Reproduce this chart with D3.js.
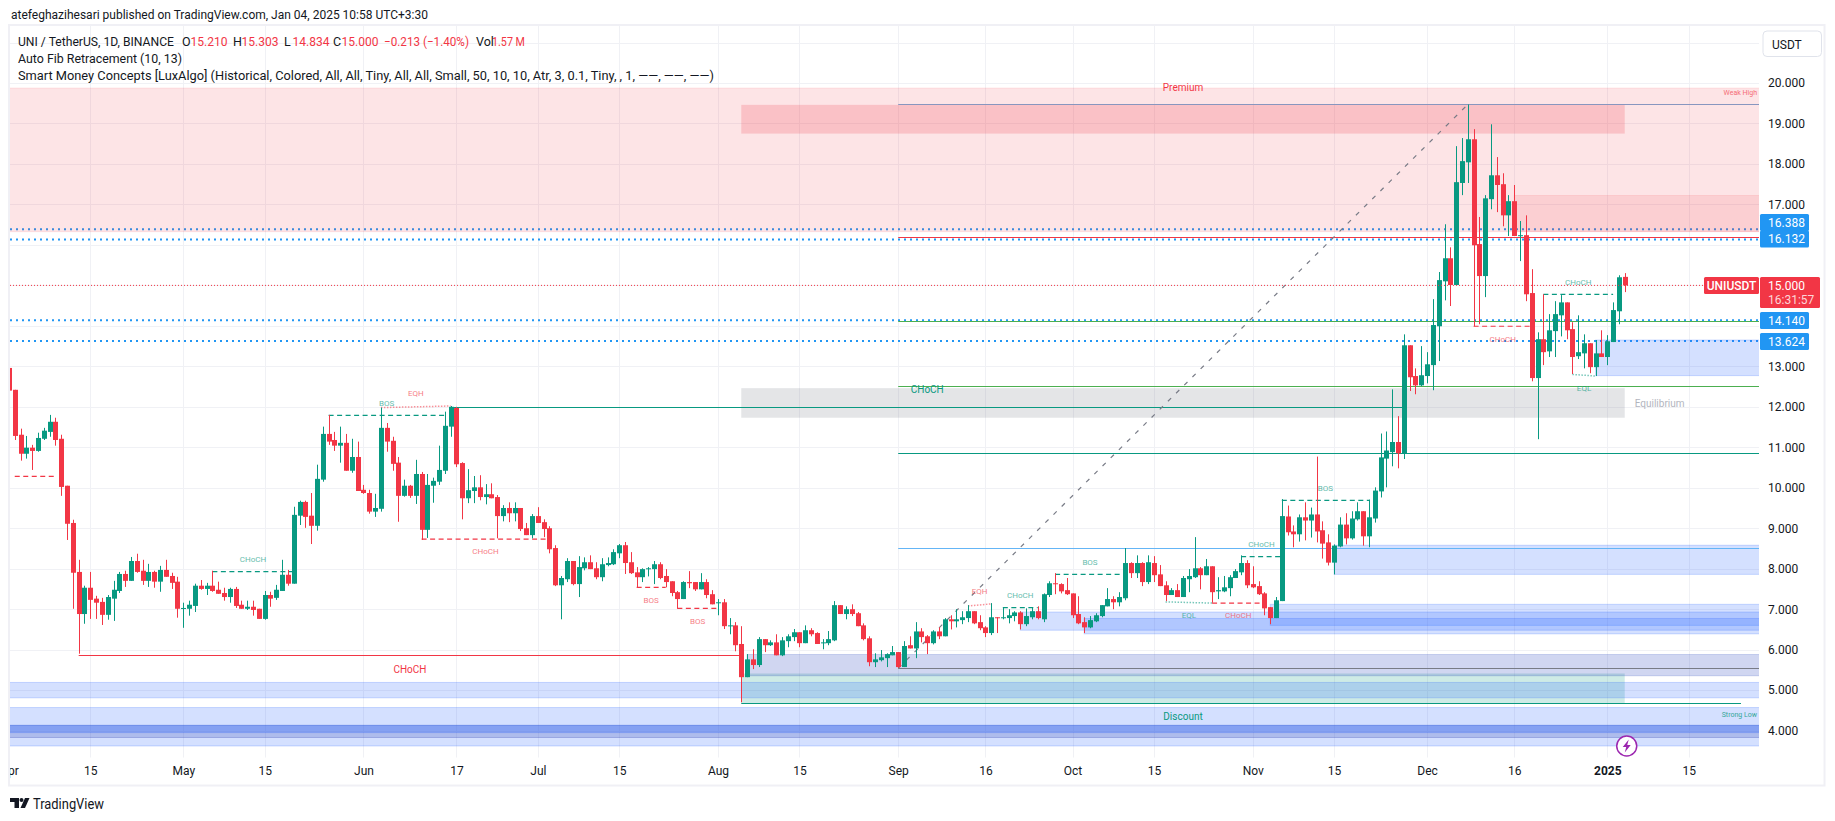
<!DOCTYPE html>
<html lang="en">
<head>
<meta charset="UTF-8">
<title>UNIUSDT 1D</title>
<style>
    html, body { margin: 0; background: #fff; }
    svg { display: block; }
    text { font-family: Roboto, "Liberation Sans", sans-serif; fill: #131722; }
</style>
<script src="https://d3js.org/d3.v7.min.js"></script>
</head>
<body>
<svg width="1835" height="821"></svg>
<script>
// daily bars from firstBar on: open, high, low, close
const firstBar = "2024-04-01";
const ohlc = [
[12.96,13.10,12.35,12.40],[12.42,12.42,11.18,11.28],[11.31,11.46,10.67,10.84],[10.84,11.28,10.72,10.99],[10.99,11.06,10.44,10.91],
[10.91,11.36,10.89,11.23],[11.21,11.48,11.18,11.41],[11.38,11.80,11.26,11.63],[11.63,11.73,11.04,11.18],[11.21,11.31,9.80,10.02],
[10.05,10.05,8.71,9.11],[9.13,9.21,7.01,7.90],[7.92,8.22,5.90,6.88],[6.88,7.58,6.64,7.53],[7.53,7.92,6.76,7.23],
[7.26,7.33,6.76,7.16],[7.18,7.28,6.61,6.86],[6.86,7.35,6.74,7.30],[7.26,7.70,6.71,7.48],[7.45,7.92,7.40,7.87],
[7.87,7.95,7.55,7.70],[7.70,8.29,7.70,8.19],[8.19,8.37,7.90,7.92],[7.95,8.22,7.60,7.70],[7.70,8.12,7.55,7.92],
[7.92,7.95,7.53,7.68],[7.68,8.07,7.43,7.97],[7.97,8.22,7.80,7.80],[7.82,7.90,7.50,7.65],[7.68,7.80,6.79,7.01],
[7.01,7.16,6.54,7.03],[7.01,7.21,6.84,7.11],[7.08,7.63,6.93,7.58],[7.58,7.72,7.48,7.50],[7.50,7.65,7.35,7.58],
[7.58,7.95,7.43,7.45],[7.48,7.68,7.38,7.38],[7.40,7.53,7.21,7.30],[7.30,7.53,7.16,7.50],[7.50,7.55,7.03,7.08],
[7.11,7.21,7.01,7.01],[7.01,7.21,6.98,7.06],[7.06,7.21,6.84,6.98],[7.01,7.01,6.76,6.76],[6.76,7.45,6.74,7.35],
[7.35,7.43,7.06,7.26],[7.28,7.60,7.23,7.48],[7.45,8.22,7.45,7.85],[7.85,7.97,7.58,7.63],[7.63,9.53,7.63,9.33],
[9.31,9.68,9.08,9.65],[9.65,9.68,9.01,9.28],[9.31,9.87,8.61,9.06],[9.06,10.57,8.94,10.22],[10.20,11.51,10.15,11.33],
[11.33,11.80,11.06,11.14],[11.18,11.38,10.91,11.04],[11.04,11.51,10.62,11.11],[11.11,11.33,10.42,10.42],[10.42,11.21,10.37,10.76],
[10.76,11.14,9.92,9.92],[9.95,10.07,9.85,9.87],[9.87,9.95,9.36,9.41],[9.41,9.85,9.28,9.50],[9.48,11.98,9.41,11.48],
[11.48,11.60,10.89,11.14],[11.16,11.26,10.42,10.59],[10.62,10.76,9.16,9.80],[9.80,10.20,9.78,10.05],[10.05,10.07,9.75,9.80],
[9.80,10.69,9.60,10.34],[10.34,10.39,8.71,8.96],[8.96,10.34,8.76,10.07],[10.05,10.25,9.63,10.17],[10.15,11.04,10.07,10.44],
[10.42,11.88,10.34,11.53],[11.51,12.02,11.26,12.00],[11.97,12.00,10.51,10.58],[10.61,10.63,9.22,9.74],[9.74,10.46,9.62,9.94],
[9.92,10.29,9.62,10.01],[10.01,10.31,9.69,9.77],[9.77,10.09,9.59,9.84],[9.84,10.11,9.74,9.74],[9.77,9.82,8.75,9.30],
[9.30,9.57,9.17,9.50],[9.50,9.64,9.15,9.37],[9.37,9.64,9.17,9.50],[9.50,9.50,8.93,8.98],[9.00,9.13,8.83,8.83],
[8.83,9.35,8.75,9.30],[9.30,9.52,9.13,9.13],[9.15,9.22,8.78,8.98],[9.00,9.05,8.38,8.48],[8.51,8.58,7.57,7.59],
[7.59,7.82,6.75,7.77],[7.74,8.26,7.67,8.19],[8.19,8.19,7.59,7.62],[7.62,8.31,7.30,8.04],[8.01,8.28,7.96,8.16],
[8.16,8.33,7.99,7.99],[8.01,8.16,7.74,7.79],[7.79,8.26,7.69,8.11],[8.09,8.28,8.06,8.14],[8.11,8.48,8.09,8.41],
[8.38,8.61,8.26,8.58],[8.58,8.66,7.87,8.14],[8.16,8.41,7.87,7.89],[7.91,8.04,7.54,7.79],[7.79,8.01,7.67,7.99],
[7.99,8.04,7.81,8.01],[7.99,8.19,7.62,8.11],[8.11,8.16,7.74,7.77],[7.82,7.99,7.54,7.67],[7.69,7.69,7.32,7.40],
[7.42,7.45,7.01,7.25],[7.25,7.69,7.25,7.67],[7.67,7.94,7.52,7.64],[7.67,7.67,7.45,7.49],[7.49,7.89,7.49,7.67],
[7.67,7.74,7.27,7.35],[7.37,7.47,7.12,7.12],[7.15,7.25,6.85,7.17],[7.17,7.25,6.51,6.58],[6.58,6.78,6.38,6.60],
[6.60,6.68,5.96,6.11],[6.14,6.58,4.70,5.32],[5.32,5.89,5.32,5.76],[5.76,6.01,5.52,5.62],[5.62,6.31,5.57,6.26],
[6.26,6.26,5.94,6.11],[6.11,6.23,6.09,6.18],[6.18,6.38,5.86,5.86],[5.86,6.31,5.84,6.23],[6.21,6.38,6.06,6.33],
[6.31,6.51,6.21,6.43],[6.43,6.43,6.06,6.16],[6.16,6.60,6.16,6.48],[6.48,6.53,6.33,6.38],[6.41,6.43,6.14,6.14],
[6.16,6.26,6.01,6.18],[6.16,6.46,6.11,6.26],[6.23,7.20,6.21,7.10],[7.10,7.10,6.88,6.88],[6.88,7.07,6.75,7.00],
[7.00,7.12,6.83,6.88],[6.90,6.93,6.58,6.58],[6.60,6.65,6.23,6.26],[6.28,6.33,5.59,5.69],[5.69,5.91,5.57,5.76],
[5.74,5.99,5.71,5.81],[5.79,5.91,5.57,5.89],[5.86,6.09,5.86,5.94],[5.94,5.94,5.55,5.57],[5.57,6.21,5.57,6.09],
[6.11,6.33,6.03,6.03],[6.03,6.68,5.79,6.45],[6.45,6.53,6.18,6.31],[6.33,6.36,5.89,6.16],[6.16,6.48,6.13,6.45],
[6.45,6.55,6.26,6.33],[6.33,6.78,6.33,6.75],[6.75,6.85,6.50,6.70],[6.70,7.00,6.55,6.75],[6.73,6.95,6.63,6.80],
[6.78,7.10,6.68,6.95],[6.95,6.95,6.63,6.65],[6.68,6.85,6.48,6.53],[6.55,6.58,6.31,6.41],[6.41,7.15,6.36,6.80],
[6.80,6.80,6.41,6.78],[6.78,7.05,6.75,6.80],[6.78,7.00,6.65,6.85],[6.83,6.95,6.70,6.92],[6.92,6.95,6.50,6.63],
[6.63,7.02,6.58,6.83],[6.80,7.05,6.75,6.95],[6.95,7.07,6.75,6.78],[6.75,7.39,6.68,7.37],[7.35,7.69,7.30,7.64],
[7.64,7.89,7.37,7.62],[7.62,7.64,7.39,7.44],[7.47,7.77,7.35,7.37],[7.39,7.39,6.78,6.85],[6.88,7.32,6.63,6.65],
[6.68,6.80,6.41,6.55],[6.55,6.83,6.53,6.73],[6.70,6.90,6.68,6.85],[6.83,7.10,6.80,7.10],[7.07,7.52,7.07,7.25],
[7.25,7.32,7.00,7.17],[7.17,7.42,7.07,7.30],[7.27,8.51,7.22,8.14],[8.14,8.16,7.77,7.89],[7.89,8.33,7.77,8.14],
[8.14,8.16,7.57,7.67],[7.67,8.33,7.62,8.16],[8.14,8.31,7.67,7.84],[7.86,8.09,7.57,7.57],[7.59,7.69,7.20,7.35],
[7.35,7.52,7.35,7.47],[7.47,7.62,7.30,7.30],[7.30,7.82,7.30,7.77],[7.74,7.99,7.42,7.82],[7.79,8.78,7.77,8.01],
[8.01,8.04,7.49,7.84],[7.84,8.24,7.84,8.06],[8.06,8.06,7.16,7.42],[7.44,7.79,7.25,7.47],[7.44,7.82,7.42,7.54],
[7.52,7.84,7.32,7.79],[7.77,7.99,7.77,7.94],[7.91,8.33,7.84,8.14],[8.14,8.21,7.52,7.59],[7.62,8.06,7.52,7.54],
[7.57,7.69,7.35,7.37],[7.39,7.42,6.85,7.02],[7.05,7.05,6.63,6.78],[6.78,7.30,6.78,7.22],[7.20,9.72,7.20,9.30],
[9.29,9.56,8.82,8.90],[8.92,9.07,8.53,8.85],[8.85,9.34,8.67,9.27],[9.27,9.64,8.70,9.19],[9.19,9.51,8.77,9.34],
[9.34,10.77,8.65,8.92],[8.95,9.17,8.25,8.62],[8.65,8.85,8.08,8.15],[8.15,8.60,7.86,8.57],[8.55,9.27,8.53,9.09],
[9.09,9.37,8.60,8.75],[8.75,9.42,8.72,9.24],[9.22,9.64,9.19,9.42],[9.42,9.42,8.57,8.80],[8.80,9.71,8.53,9.27],
[9.24,10.01,9.14,9.93],[9.91,11.34,9.76,10.75],[10.72,11.39,10.01,10.92],[10.88,12.43,10.53,11.13],[11.13,11.77,10.48,10.85],
[10.85,13.79,10.71,13.52],[13.52,13.52,12.39,12.73],[12.76,12.95,12.31,12.53],[12.53,13.50,12.51,12.78],[12.76,13.35,12.58,13.05],
[13.03,14.66,12.41,14.02],[13.99,15.33,13.13,15.13],[15.10,16.51,14.63,15.67],[15.67,15.94,14.49,15.01],[15.01,18.44,15.01,17.55],
[17.53,18.64,17.23,18.07],[18.04,19.47,17.53,18.61],[18.61,18.86,13.99,15.99],[16.02,16.69,14.04,15.23],[15.23,17.23,14.71,17.15],
[17.13,18.98,16.88,17.72],[17.72,18.17,16.81,17.48],[17.50,17.77,16.46,16.73],[16.73,17.23,16.22,17.08],[17.08,17.48,16.22,16.22],
[16.22,16.59,15.60,16.24],[16.24,16.73,14.61,14.78],[14.81,15.40,12.63,12.71],[12.71,13.84,11.20,13.67],[13.67,14.78,13.03,13.35],
[13.37,14.29,13.23,13.89],[13.87,14.61,13.23,14.29],[14.26,14.76,13.74,14.58],[14.58,14.58,13.67,13.89],[13.92,14.09,12.81,13.23],
[13.25,14.26,13.18,13.35],[13.32,13.79,12.95,13.57],[13.57,13.57,12.83,12.98],[12.98,13.65,12.76,13.32],[13.32,13.89,13.23,13.23],
[13.23,13.77,13.03,13.62],[13.60,14.58,13.60,14.39],[14.36,15.25,14.04,15.20],[15.21,15.303,14.834,15.00]
];

const priceTicks = d3.range(4, 22);
// these sit behind the button and the price tags, only their grid lines show
const coveredTicks = [21, 16, 15, 14];
const timeTicks = [
    ["2024-04-01","Apr"],["2024-04-15","15"],["2024-05-01","May"],["2024-05-15","15"],["2024-06-01","Jun"],
    ["2024-06-17","17"],["2024-07-01","Jul"],["2024-07-15","15"],["2024-08-01","Aug"],["2024-08-15","15"],
    ["2024-09-01","Sep"],["2024-09-16","16"],["2024-10-01","Oct"],["2024-10-15","15"],["2024-11-01","Nov"],
    ["2024-11-15","15"],["2024-12-01","Dec"],["2024-12-16","16"],["2025-01-01","2025"],["2025-01-15","15"]
];

// boxes: kind, from, to, top price, bottom price ("edge" runs off the pane)
const edgeL = "2024-03-25", edgeR = "2025-02-10";
const zones = [
    ["premium", edgeL, edgeR, 19.877, 16.326],
    ["supply", "2024-08-05", "2025-01-04", 19.46, 18.75],
    ["supplyLight", "2024-12-16", edgeR, 17.22, 16.33],
    ["equilibrium", "2024-08-05", "2025-01-04", 12.46, 11.73],
    ["discount", "2024-08-05", "2025-01-04", 5.41, 4.67],
    ["demand", edgeL, edgeR, 5.19, 4.81],
    ["demand", edgeL, edgeR, 4.57, 3.62],
    ["demandMid", edgeL, edgeR, 4.13, 3.83],
    ["demandDark", edgeL, edgeR, 4.13, 3.95],
    ["demandSlate", "2024-08-06", edgeR, 5.88, 5.355],
    ["demand", "2024-09-22", edgeR, 6.93, 6.48],
    ["demand", "2024-10-03", edgeR, 6.77, 6.39],
    ["demand", "2024-11-04", edgeR, 7.12, 6.60],
    ["demand", "2024-11-15", edgeR, 8.58, 7.86],
    ["demand", "2024-12-30", edgeR, 13.65, 12.77]
];

// solid levels: kind, from, to, price
const levels = [
    ["fib", "2024-09-01", edgeR, 19.47],
    ["bear", "2024-09-01", edgeR, 16.19],
    ["lime", "2024-09-01", edgeR, 14.13],
    ["lime", "2024-09-01", edgeR, 12.51],
    ["bull", "2024-06-16", "2024-11-27", 12.0],
    ["bull", "2024-09-01", edgeR, 10.85],
    ["sky", "2024-09-01", edgeR, 8.50],
    ["grey", "2024-09-01", edgeR, 5.54],
    ["bear", "2024-04-13", "2024-08-05", 5.88],
    ["bull", "2024-08-05", "2025-01-24", 4.67]
];

const alertLevels = [16.388, 16.132, 14.140, 13.624];
const lastPrice = 15.0;
const fibLine = [["2024-09-01", 5.54], ["2024-12-08", 19.47]];

// market structure: label, tone, from, to, price at from, price at to, label side (-1 above, 1 below)
const structure = [
    ["", "bear", "2024-04-02", "2024-04-09", 10.28, 10.28, 1],
    ["CHoCH", "bull", "2024-05-06", "2024-05-20", 7.93, 7.93, -1],
    ["BOS", "bull", "2024-05-26", "2024-06-15", 11.79, 11.79, -1],
    ["EQH", "bear", "2024-06-04", "2024-06-16", 11.98, 12.02, -1],
    ["CHoCH", "bear", "2024-06-11", "2024-07-03", 8.73, 8.73, 1],
    ["BOS", "bear", "2024-07-18", "2024-07-23", 7.54, 7.54, 1],
    ["BOS", "bear", "2024-07-25", "2024-08-01", 7.02, 7.02, 1],
    ["EQH", "bear", "2024-09-13", "2024-09-17", 7.08, 7.13, -1],
    ["CHoCH", "bull", "2024-09-19", "2024-09-25", 7.04, 7.04, -1],
    ["BOS", "bull", "2024-09-28", "2024-10-10", 7.86, 7.86, -1],
    ["EQL", "bull", "2024-10-17", "2024-10-25", 7.18, 7.15, 1],
    ["CHoCH", "bear", "2024-10-25", "2024-11-03", 7.15, 7.15, 1],
    ["CHoCH", "bull", "2024-10-30", "2024-11-06", 8.30, 8.30, -1],
    ["BOS", "bull", "2024-11-06", "2024-11-21", 9.69, 9.69, -1],
    ["CHoCH", "bear", "2024-12-09", "2024-12-19", 13.99, 13.99, 1],
    ["CHoCH", "bull", "2024-12-21", "2025-01-02", 14.78, 14.78, -1],
    ["EQL", "bull", "2024-12-26", "2024-12-30", 12.80, 12.76, 1]
];

// bigger texts: text, kind, date, price
const notes = [
    ["CHoCH", "bear", "2024-06-09", 5.52],
    ["CHoCH", "bull", "2024-09-06", 12.42],
    ["Premium", "bear", "2024-10-20", 19.88],
    ["Discount", "bull", "2024-10-20", 4.34],
    ["Equilibrium", "grey", "2025-01-10", 12.07]
];

const header = "atefeghazihesari published on TradingView.com, Jan 04, 2025 10:58 UTC+3:30";
const legendSymbol = "UNI / TetherUS, 1D, BINANCE";
const legendValues = [["O","15.210"],["H","15.303"],["L","14.834"],["C","15.000"]];
const legendChange = "−0.213 (−1.40%)";
const legendVolume = "1.57 M";
const studies = [
    "Auto Fib Retracement (10, 13)",
    "Smart Money Concepts [LuxAlgo] (Historical, Colored, All, All, Tiny, All, All, Small, 50, 10, 10, Atr, 3, 0.1, Tiny, , 1, ——, ——, ——)"
];

const BULL = "#089981", BEAR = "#f23645";
const zoneFill = {
    premium: "rgba(242,54,69,0.135)", supply: "rgba(242,54,69,0.2)", supplyLight: "rgba(242,54,69,0.12)",
    equilibrium: "rgba(120,123,134,0.2)", discount: "rgba(8,153,129,0.2)",
    demand: "rgba(41,98,255,0.2)", demandMid: "rgba(60,80,180,0.25)", demandDark: "rgba(41,98,255,0.3)",
    demandSlate: "rgba(40,70,190,0.22)"
};
const zoneEdge = {
    premium: "rgba(242,54,69,0.1)", supplyLight: "rgba(242,54,69,0.1)",
    demand: "rgba(41,98,255,0.22)", demandMid: "rgba(60,80,180,0.3)", demandDark: "rgba(41,98,255,0.2)",
    demandSlate: "rgba(40,70,190,0.2)"
};
const levelColor = { fib: "#8896bf", bear: BEAR, bull: BULL, lime: "#4caf50", sky: "#64b5f6", grey: "#787b86" };
const noteColor = { bear: BEAR, bull: BULL, grey: "#b2b5be" };

const day = s => new Date(s + "T00:00:00Z");
const crisp = v => Math.round(v) + 0.5;
const pane = { left: 10, right: 1759, top: 26, bottom: 757.7 };

const x = d3.scaleUtc().domain([day("2024-04-15"), day("2025-01-01")]).range([90.3, 1607.3]);
const y = d3.scaleLinear().domain([20, 12]).range([83, 406.8]);

const svg = d3.select("svg");
svg.append("defs").append("clipPath").attr("id", "pane").append("rect")
    .attr("x", pane.left).attr("y", pane.top)
    .attr("width", pane.right - pane.left).attr("height", pane.bottom - pane.top);
svg.select("defs").append("clipPath").attr("id", "timeClip").append("rect")
    .attr("x", pane.left).attr("y", pane.bottom)
    .attr("width", 1750).attr("height", 28);

svg.append("rect").attr("x", 9).attr("y", 25).attr("width", 1815.5).attr("height", 760.5)
    .attr("fill", "#fff").attr("stroke", "#f0f0f5").attr("stroke-width", 2);

const plot = svg.append("g").attr("clip-path", "url(#pane)");

// grid
plot.selectAll("line.gh").data(priceTicks).enter().append("line")
    .attr("x1", pane.left).attr("x2", pane.right)
    .attr("y1", d => crisp(y(d))).attr("y2", d => crisp(y(d)))
    .attr("stroke", "#f0f1f5");
plot.selectAll("line.gv").data(timeTicks).enter().append("line")
    .attr("x1", d => crisp(x(day(d[0])))).attr("x2", d => crisp(x(day(d[0]))))
    .attr("y1", pane.top).attr("y2", pane.bottom)
    .attr("stroke", "#f0f1f5");

// alert levels go under the zones
plot.selectAll("line.alert").data(alertLevels).enter().append("line")
    .attr("x1", pane.left).attr("x2", pane.right)
    .attr("y1", d => y(d)).attr("y2", d => y(d))
    .attr("stroke", "#2196f3").attr("stroke-width", 2).attr("stroke-dasharray", "2 4");

plot.selectAll("rect.zone").data(zones).enter().append("rect")
    .attr("x", d => x(day(d[1]))).attr("width", d => x(day(d[2])) - x(day(d[1])))
    .attr("y", d => y(d[3])).attr("height", d => y(d[4]) - y(d[3]))
    .attr("fill", d => zoneFill[d[0]])
    .attr("stroke", d => zoneEdge[d[0]] || "none");

plot.selectAll("line.level").data(levels).enter().append("line")
    .attr("x1", d => x(day(d[1]))).attr("x2", d => x(day(d[2])))
    .attr("y1", d => crisp(y(d[3]))).attr("y2", d => crisp(y(d[3])))
    .attr("stroke", d => levelColor[d[0]]);

plot.append("line")
    .attr("x1", x(day(fibLine[0][0]))).attr("y1", y(fibLine[0][1]))
    .attr("x2", x(day(fibLine[1][0]))).attr("y2", y(fibLine[1][1]))
    .attr("stroke", "#787b86").attr("stroke-width", 1.2).attr("stroke-dasharray", "4.5 7");

// structure breaks, EQH / EQL are the dotted ones
plot.selectAll("line.st").data(structure).enter().append("line")
    .attr("x1", d => x(day(d[2]))).attr("x2", d => x(day(d[3])))
    .attr("y1", d => y(d[4])).attr("y2", d => y(d[5]))
    .attr("stroke", d => d[1] === "bull" ? BULL : BEAR)
    .attr("stroke-width", d => d[0].startsWith("EQ") ? 1.5 : 1.2)
    .attr("stroke-opacity", d => d[0].startsWith("EQ") ? 0.55 : 1)
    .attr("stroke-dasharray", d => d[0].startsWith("EQ") ? "1.5 1.5" : "5 3.5");

// candles
const candles = ohlc.map((d, i) => ({
    date: d3.utcDay.offset(day(firstBar), i), o: d[0], h: d[1], l: d[2], c: d[3]
}));
const bars = plot.selectAll("g.bar").data(candles).enter().append("g")
    .attr("fill", d => d.c >= d.o ? BULL : BEAR);
bars.append("rect")
    .attr("x", d => Math.round(x(d.date)))
    .attr("width", 1)
    .attr("y", d => y(d.h)).attr("height", d => y(d.l) - y(d.h));
bars.append("rect")
    .attr("x", d => Math.round(x(d.date)) - 2)
    .attr("width", 5)
    .attr("y", d => y(Math.max(d.o, d.c)))
    .attr("height", d => Math.max(1, Math.abs(y(d.o) - y(d.c))));

plot.append("line")
    .attr("x1", pane.left).attr("x2", 1704)
    .attr("y1", y(lastPrice)).attr("y2", y(lastPrice))
    .attr("stroke", BEAR).attr("stroke-dasharray", "1 2");

plot.selectAll("text.stl").data(structure.filter(d => d[0])).enter().append("text")
    .attr("x", d => (x(day(d[2])) + x(day(d[3]))) / 2)
    .attr("y", d => y(d[5]) + d[6] * 12.5)
    .attr("dy", "0.35em")
    .attr("text-anchor", "middle")
    .attr("font-size", 8)
    .style("fill", d => d[1] === "bull" ? "#089981" : "#f23645")
    .style("opacity", 0.65)
    .text(d => d[0]);

plot.selectAll("text.note").data(notes).enter().append("text")
    .attr("x", d => x(day(d[2])))
    .attr("y", d => y(d[3]))
    .attr("dy", "0.35em")
    .attr("text-anchor", "middle")
    .attr("font-size", 10)
    .style("fill", d => noteColor[d[1]])
    .text(d => d[0]);

plot.append("text").attr("x", 1757).attr("y", y(19.77)).attr("dy", "0.35em").attr("text-anchor", "end")
    .attr("font-size", 7).style("fill", BEAR).style("opacity", 0.7).text("Weak High");
plot.append("text").attr("x", 1757).attr("y", y(4.40)).attr("dy", "0.35em").attr("text-anchor", "end")
    .attr("font-size", 7).style("fill", BULL).style("opacity", 0.8).text("Strong Low");

// earnings style badge near the last bar
const badge = svg.append("g").attr("transform", `translate(${x(day("2025-01-04")) + 2},${y(3.62)})`);
badge.append("circle").attr("r", 10).attr("fill", "#fff").attr("stroke", "#9c27b0").attr("stroke-width", 1.5);
badge.append("path").attr("d", "M2,-6.5 L-4,1 L-0.5,1 L-2,6.5 L4,-1 L0.5,-1 Z").attr("fill", "#9c27b0");

// price axis
const yAxis = d3.axisRight(y).tickValues(priceTicks.filter(d => !coveredTicks.includes(d)))
    .tickFormat(d3.format(".3f")).tickSize(0).tickPadding(0);
const yg = svg.append("g").attr("transform", "translate(1768,0)").call(yAxis);
yg.select(".domain").remove();
yg.selectAll("text").attr("font-size", 12).style("fill", "#131722");

// time axis
const xAxis = d3.axisBottom(x).tickValues(timeTicks.map(d => day(d[0])))
    .tickFormat((d, i) => timeTicks[i][1]).tickSize(0).tickPadding(9);
const xg = svg.append("g").attr("clip-path", "url(#timeClip)")
    .append("g").attr("transform", `translate(0,${pane.bottom})`).call(xAxis);
xg.select(".domain").remove();
xg.selectAll("text").attr("font-size", 12).style("fill", "#131722")
    .style("font-weight", (d, i) => timeTicks[i][1] === "2025" ? 700 : 400);

// price tags
const tagY = { 16.388: 222.6, 16.132: 239, 14.14: 320.6, 13.624: 341.5 };
const tags = svg.append("g");
alertLevels.forEach(v => {
    tags.append("rect").attr("x", 1760).attr("width", 49).attr("y", tagY[v] - 8.5).attr("height", 17)
        .attr("rx", 1.5).attr("fill", "#2196f3");
    tags.append("text").attr("x", 1768).attr("y", tagY[v]).attr("dy", "0.35em")
        .attr("font-size", 12).style("fill", "#fff").text(d3.format(".3f")(v));
});
tags.append("rect").attr("x", 1760).attr("y", 277).attr("width", 60).attr("height", 31).attr("rx", 1.5).attr("fill", BEAR);
tags.append("text").attr("x", 1768).attr("y", y(lastPrice) + 0.5).attr("dy", "0.35em")
    .attr("font-size", 12).style("fill", "#fff").text(d3.format(".3f")(lastPrice));
tags.append("text").attr("x", 1768).attr("y", 300).attr("dy", "0.35em")
    .attr("font-size", 12).style("fill", "#fcd5d8").text("16:31:57");
tags.append("rect").attr("x", 1704).attr("y", 277).attr("width", 55).attr("height", 17).attr("rx", 1.5).attr("fill", BEAR);
tags.append("text").attr("x", 1731.5).attr("y", 285.7).attr("dy", "0.35em").attr("text-anchor", "middle")
    .attr("font-size", 12).attr("font-weight", 500).style("fill", "#fff").text("UNIUSDT");

// currency button
svg.append("rect").attr("x", 1763).attr("y", 31).attr("width", 58.5).attr("height", 25.5).attr("rx", 4)
    .attr("fill", "#fff").attr("stroke", "#e0e3eb");
svg.append("text").attr("x", 1772).attr("y", 44.7).attr("dy", "0.35em").attr("font-size", 12).text("USDT");

// header and legend
svg.append("text").attr("x", 11).attr("y", 15).attr("dy", "0.35em").attr("font-size", 12.5)
    .attr("textLength", 417).attr("lengthAdjust", "spacingAndGlyphs").text(header);

const legend = svg.append("g").attr("font-size", 12.5);
legend.append("text").attr("x", 18).attr("y", 42).attr("dy", "0.35em")
    .attr("textLength", 156).attr("lengthAdjust", "spacingAndGlyphs").text(legendSymbol);
const legendX = [182, 233, 284, 333];
legendValues.forEach((d, i) => {
    legend.append("text").attr("x", legendX[i]).attr("y", 42).attr("dy", "0.35em").text(d[0]);
    legend.append("text").attr("x", legendX[i] + 8.5).attr("y", 42).attr("dy", "0.35em")
        .style("fill", BEAR).attr("textLength", 37).attr("lengthAdjust", "spacingAndGlyphs").text(d[1]);
});
legend.append("text").attr("x", 384).attr("y", 42).attr("dy", "0.35em").style("fill", BEAR)
    .attr("textLength", 85).attr("lengthAdjust", "spacingAndGlyphs").text(legendChange);
legend.append("text").attr("x", 476).attr("y", 42).attr("dy", "0.35em").text("Vol");
legend.append("text").attr("x", 492).attr("y", 42).attr("dy", "0.35em").style("fill", BEAR)
    .attr("textLength", 33).attr("lengthAdjust", "spacingAndGlyphs").text(legendVolume);
legend.append("text").attr("x", 18).attr("y", 59).attr("dy", "0.35em")
    .attr("textLength", 164).attr("lengthAdjust", "spacingAndGlyphs").text(studies[0]);
legend.append("text").attr("x", 18).attr("y", 76).attr("dy", "0.35em")
    .attr("textLength", 696).attr("lengthAdjust", "spacingAndGlyphs").text(studies[1]);

// footer logo
const logo = svg.append("g").attr("fill", "#131722");
logo.append("path").attr("d", "M10 798h9v10h-4.5v-6H10z");
logo.append("circle").attr("cx", 21.5).attr("cy", 800).attr("r", 2);
logo.append("path").attr("d", "M25 798h4.5l-4.5 10h-4.5z");
svg.append("text").attr("x", 33).attr("y", 803.7).attr("dy", "0.35em").attr("font-size", 14.5)
    .attr("textLength", 71).attr("lengthAdjust", "spacingAndGlyphs").style("fill", "#131722").text("TradingView");
</script>
</body>
</html>
